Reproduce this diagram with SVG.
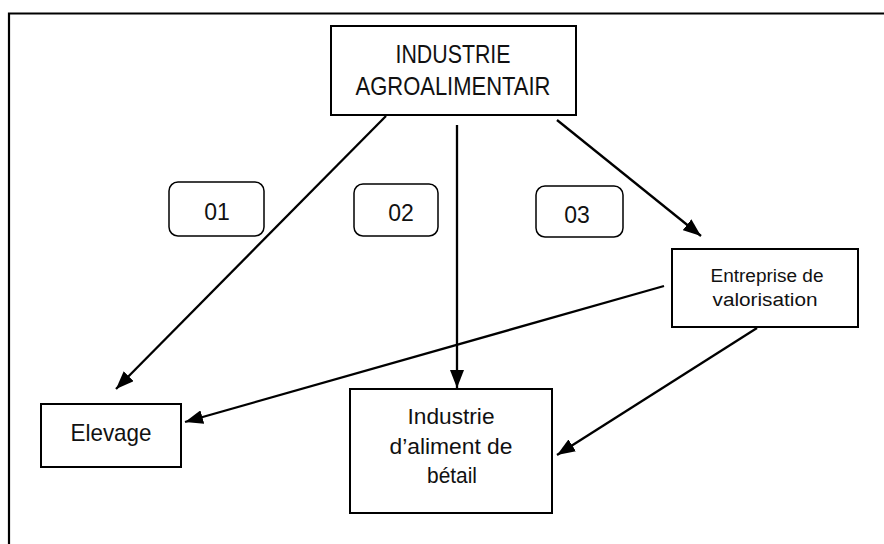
<svg xmlns="http://www.w3.org/2000/svg" width="884" height="544" viewBox="0 0 884 544">
<style>
.box{fill:#fff;stroke:#000;stroke-width:2}
.rbox{fill:#fff;stroke:#000;stroke-width:1.5}
.t{font-family:"Liberation Sans",Arial,sans-serif;fill:#111;text-anchor:middle}
.c{stroke:#000;stroke-width:2.3;fill:none;marker-end:url(#ah)}
</style>
<defs>
<marker id="ah" markerWidth="18" markerHeight="14" refX="18" refY="7" orient="auto" markerUnits="userSpaceOnUse">
<path d="M0,0 L18,7 L0,14 Z" fill="#000"/>
</marker>
</defs>
<rect width="884" height="544" fill="#fff"/>
<path d="M9,546 V13.5 H886" fill="none" stroke="#000" stroke-width="2.2"/>
<g id="connectors">
<line class="c" x1="386" y1="116" x2="116" y2="389"/>
<line class="c" x1="457" y1="125" x2="457" y2="388"/>
<line class="c" x1="557" y1="120" x2="701" y2="236"/>
<line class="c" x1="664" y1="286" x2="185" y2="422"/>
<line class="c" x1="757" y1="328" x2="557" y2="455"/>
</g>
<g id="industrie-agro">
<rect class="box" x="331" y="26" width="245" height="89"/>
<text class="t" x="453" y="63" font-size="25" textLength="115" lengthAdjust="spacingAndGlyphs">INDUSTRIE</text>
<text class="t" x="453" y="95" font-size="25" textLength="195" lengthAdjust="spacingAndGlyphs">AGROALIMENTAIR</text>
</g>
<g id="label-01">
<rect class="rbox" x="169" y="182" width="95" height="54" rx="9"/>
<text class="t" x="217" y="220" font-size="23">01</text>
</g>
<g id="label-02">
<rect class="rbox" x="354" y="184" width="84" height="52" rx="9"/>
<text class="t" x="401" y="221" font-size="23">02</text>
</g>
<g id="label-03">
<rect class="rbox" x="536" y="186" width="87" height="51" rx="9"/>
<text class="t" x="577" y="223" font-size="23">03</text>
</g>
<g id="entreprise">
<rect class="box" x="672" y="249" width="186" height="78"/>
<text class="t" x="767" y="282" font-size="18" textLength="113" lengthAdjust="spacingAndGlyphs">Entreprise de</text>
<text class="t" x="765" y="306" font-size="18" textLength="105" lengthAdjust="spacingAndGlyphs">valorisation</text>
</g>
<g id="elevage">
<rect class="box" x="41" y="404" width="140" height="63"/>
<text class="t" x="111" y="441" font-size="24" textLength="81" lengthAdjust="spacingAndGlyphs">Elevage</text>
</g>
<g id="industrie-aliment">
<rect class="box" x="350" y="389" width="202" height="124"/>
<text class="t" x="451" y="424" font-size="22" textLength="87" lengthAdjust="spacingAndGlyphs">Industrie</text>
<text class="t" x="451" y="454" font-size="22" textLength="123" lengthAdjust="spacingAndGlyphs">d’aliment de</text>
<text class="t" x="452" y="483" font-size="22" textLength="50" lengthAdjust="spacingAndGlyphs">bétail</text>
</g>
</svg>
